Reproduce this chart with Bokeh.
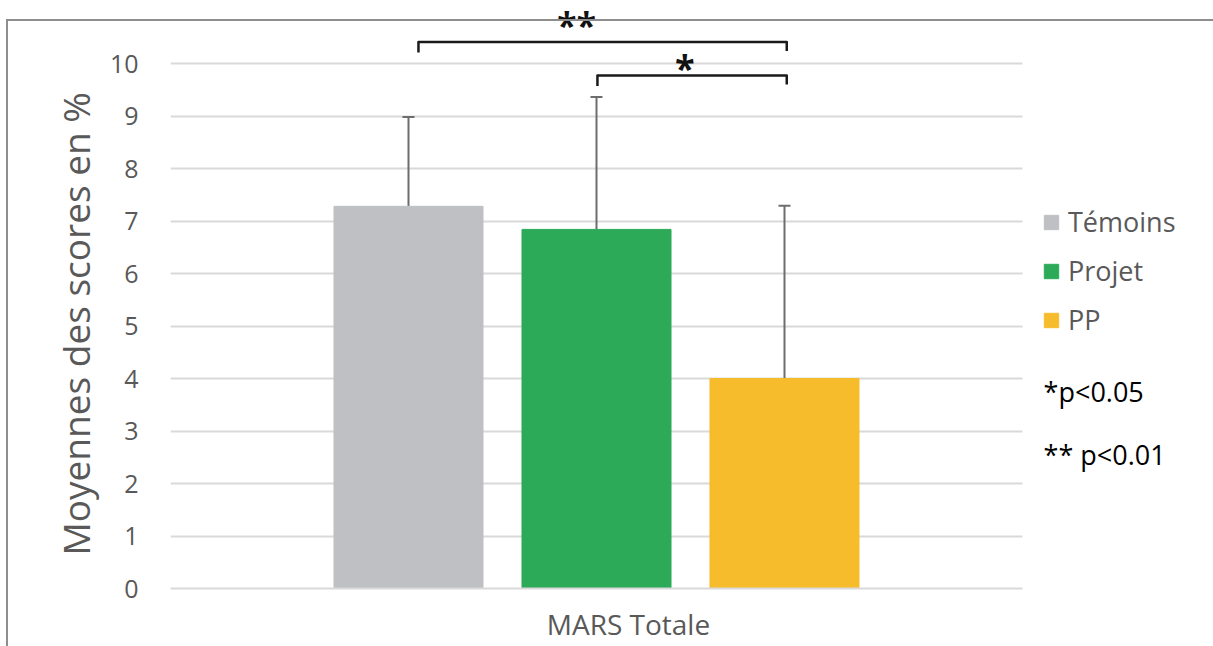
from bokeh.plotting import figure
from bokeh.models import (Range1d, FixedTicker, ColumnDataSource, Whisker, TeeHead,
                          Legend, LegendItem, Label, BoxAnnotation, InlineStyleSheet, Title)
from bokeh.embed import file_html
from bokeh.resources import INLINE

# ---- data ----
category = "MARS Totale"
series = ["Témoins", "Projet", "PP"]
means = [7.28, 6.84, 4.00]
sds = [1.70, 2.52, 3.29]
colors = ["#bfc0c4", "#2daa58", "#f6bc2c"]
y_ticks = [0, 1, 2, 3, 4, 5, 6, 7, 8, 9, 10]
brackets = [("**", "Témoins", "PP"), ("*", "Projet", "PP")]
bracket_levels = [10.41, 9.77]
notes = ["*p<0.05", "** p<0.01"]
y_title = "Moyennes des scores en %"

FONT = "Open Sans"
GREY_TXT = "#595959"

xs = [i - 1 for i in range(len(series))]
src = ColumnDataSource(dict(
    x=xs, top=means, upper=[m + s for m, s in zip(means, sds)],
    color=colors, name=series))

border_css = InlineStyleSheet(css="""
:host::after {
  content: "";
  position: absolute;
  left: 6px; top: 19px; right: 0px; bottom: 0px;
  border-left: 2px solid #8e8e8e;
  border-top: 2px solid #8e8e8e;
  pointer-events: none;
  z-index: 10;
}
""")

p = figure(width=1213, height=646, output_backend="svg", toolbar_location=None,
           x_range=Range1d(-2.266, 3.282), y_range=Range1d(0, 11.2),
           min_border_left=170, min_border_right=0, min_border_top=0,
           min_border_bottom=58, stylesheets=[border_css])
p.outline_line_color = None
p.background_fill_color = "white"
p.border_fill_color = "white"

r = p.vbar(x="x", top="top", width=0.7926, bottom=0, color="color", source=src)

w = Whisker(source=src, base="x", lower="top", upper="upper", dimension="height",
            line_color="#6d6d6d", line_width=2,
            upper_head=TeeHead(size=12, line_color="#6d6d6d", line_width=2),
            lower_head=None)
p.add_layout(w)

# y axis
p.yaxis.ticker = FixedTicker(ticks=y_ticks)
p.yaxis.axis_line_color = None
p.yaxis.major_tick_line_color = None
p.yaxis.minor_tick_line_color = None
p.yaxis.major_label_text_font = FONT
p.yaxis.major_label_text_font_size = "25px"
p.yaxis.major_label_text_color = GREY_TXT
p.yaxis.major_label_standoff = 26

# y title, centred on the 0-10 plot area
p.add_layout(Title(text=y_title, align="left", offset=33, standoff=12,
                   text_font=FONT, text_font_size="37px",
                   text_font_style="normal", text_color=GREY_TXT), "left")

# x axis
p.xaxis.ticker = FixedTicker(ticks=[0.17])
p.xaxis.major_label_overrides = {0.17: category}
p.xaxis.bounds = (-2.266, 2.266)
p.xaxis.axis_line_color = "#d9d9d9"
p.xaxis.axis_line_width = 2
p.xaxis.major_tick_line_color = None
p.xaxis.minor_tick_line_color = None
p.xaxis.major_label_text_font = FONT
p.xaxis.major_label_text_font_size = "28px"
p.xaxis.major_label_text_color = GREY_TXT
p.xaxis.major_label_standoff = 10

p.xgrid.grid_line_color = None
p.ygrid.ticker = FixedTicker(ticks=y_ticks)
p.ygrid.grid_line_color = "#d9d9d9"
p.ygrid.grid_line_width = 2

# gridlines stop at the plot area's right edge (legend area on the right)
p.add_layout(BoxAnnotation(left=2.266, fill_color="white", fill_alpha=1,
                           line_alpha=0, level="underlay"))

# significance brackets
left_inset = [0.053, 0.005]
for (stars, a, b), lvl, li in zip(brackets, bracket_levels, left_inset):
    xa = xs[series.index(a)] + li
    xb = xs[series.index(b)] + 0.012
    p.line(x=[xa, xa, xb, xb], y=[lvl - 0.2, lvl, lvl, lvl - 0.17],
           line_color="#1a1a1a", line_width=2.5, line_join="round")
star_pos = [(-0.106, 10.74), (0.47, 9.93)]
for (stars, a, b), (sx, sy) in zip(brackets, star_pos):
    p.add_layout(Label(x=sx, y=sy, text=stars, text_font=FONT,
                       text_font_size="36px", text_font_style="bold",
                       text_color="#111111", text_align="center",
                       text_baseline="alphabetic"))

# legend
items = [LegendItem(label=s, renderers=[r], index=i) for i, s in enumerate(series)]
leg = Legend(items=items, location=(872, 250), padding=0, margin=0,
             border_line_color=None, background_fill_alpha=0,
             glyph_width=18, glyph_height=18, label_standoff=8, spacing=12,
             label_text_font=FONT, label_text_font_size="27px",
             label_text_color=GREY_TXT)
p.add_layout(leg)

for note, ny in zip(notes, [3.752, 2.552]):
    p.add_layout(Label(x=2.378, y=ny, text=note, text_font=FONT,
                       text_font_size="27px", text_color="#000000",
                       text_baseline="alphabetic"))

open("out.html", "w").write(file_html(p, INLINE))
